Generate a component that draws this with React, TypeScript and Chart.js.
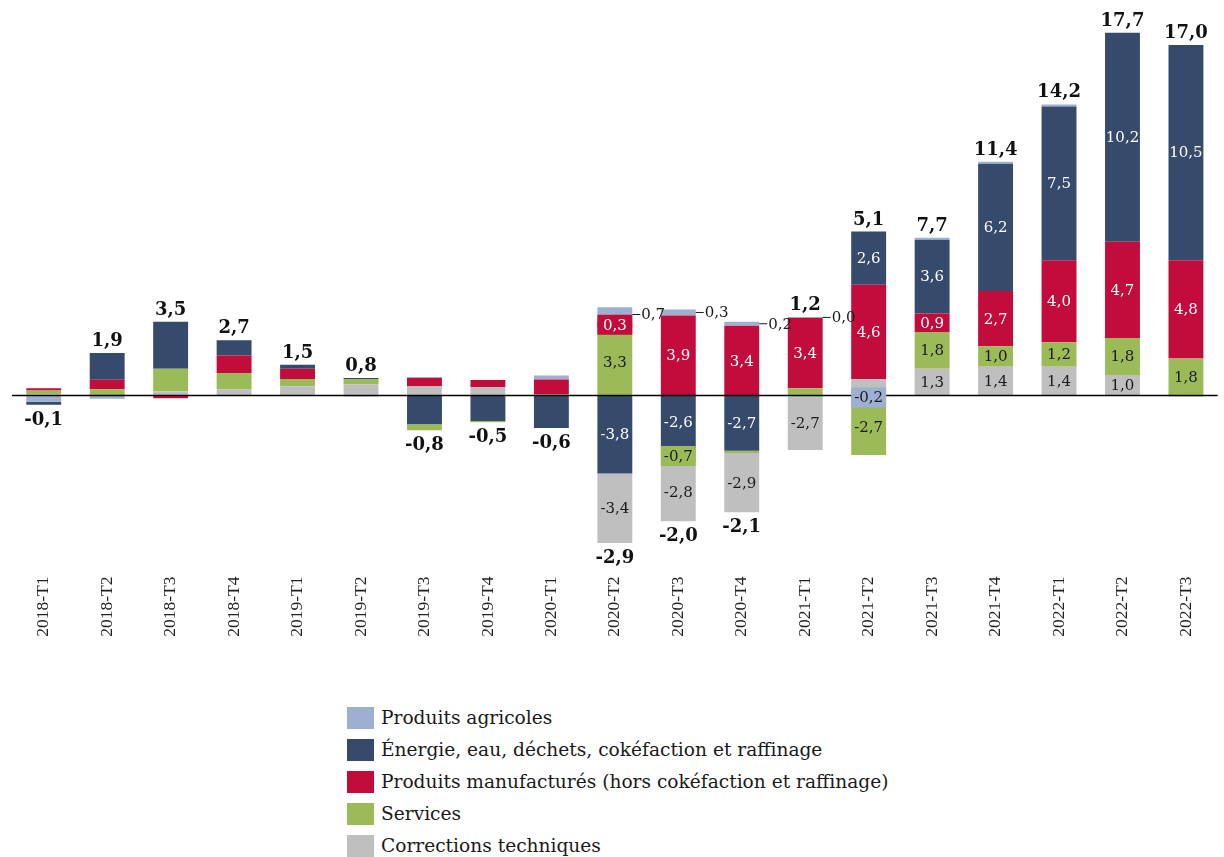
import React, { useEffect, useRef } from "react";
import { Chart, registerables } from "chart.js";

Chart.register(...registerables);

// ---- Data ----
const quarters = [
  "2018-T1", "2018-T2", "2018-T3", "2018-T4",
  "2019-T1", "2019-T2", "2019-T3", "2019-T4",
  "2020-T1", "2020-T2", "2020-T3", "2020-T4",
  "2021-T1", "2021-T2", "2021-T3", "2021-T4",
  "2022-T1", "2022-T2", "2022-T3",
];

const agricoles = [-0.3, -0.16, 0, -0.03, 0, -0.05, 0.05, 0, 0.2, 0.7, 0.3, 0.2, 0.04, -0.2, 0.1, 0.1, 0.1, 0, -0.05];
const energie = [-0.15, 1.3, 2.3, 0.75, 0.2, 0.05, -1.4, -1.24, -1.58, -3.8, -2.6, -2.7, 0, 2.6, 3.6, 6.2, 7.5, 10.2, 10.5];
const manufactures = [0.1, 0.47, -0.13, 0.85, 0.5, 0, 0.39, 0.34, 0.73, 0.3, 3.9, 3.4, 3.44, 4.6, 0.9, 2.7, 4.0, 4.7, 4.8];
const services = [0.2, 0.3, 1.1, 0.8, 0.35, 0.25, -0.3, -0.06, 0.05, 3.3, -0.7, -0.1, 0.35, -2.7, 1.8, 1.0, 1.2, 1.8, 1.8];
const corrections = [0.05, 0, 0.2, 0.3, 0.45, 0.55, 0.46, 0.42, 0, -3.4, -2.84, -2.9, -2.66, 0.8, 1.3, 1.4, 1.4, 1.0, 0];

const totals = [-0.1, 1.9, 3.5, 2.7, 1.5, 0.8, -0.8, -0.5, -0.6, -2.9, -2.0, -2.1, 1.2, 5.1, 7.7, 11.4, 14.2, 17.7, 17.0];

// Which segments carry a value label ("in" inside, "box" boxed, "lead" beside with leader line)
const agriLabels = ["", "", "", "", "", "", "", "", "", "lead", "lead", "lead", "lead", "box", "", "", "", "", ""];
const energieLabels = ["", "", "", "", "", "", "", "", "", "in", "in", "in", "", "in", "in", "in", "in", "in", "in"];
const manufLabels = ["", "", "", "", "", "", "", "", "", "box", "in", "in", "in", "in", "in", "in", "in", "in", "in"];
const servicesLabels = ["", "", "", "", "", "", "", "", "", "in", "box", "", "", "in", "in", "in", "in", "in", "in"];
const correctionsLabels = ["", "", "", "", "", "", "", "", "", "in", "in", "in", "in", "", "in", "in", "in", "in", ""];

const SERIES = [
  { label: "Produits agricoles", data: agricoles, color: "#9db0d1", text: "#1a1a1a", labels: agriLabels },
  { label: "Énergie, eau, déchets, cokéfaction et raffinage", data: energie, color: "#364a6b", text: "#ffffff", labels: energieLabels },
  { label: "Produits manufacturés (hors cokéfaction et raffinage)", data: manufactures, color: "#c20c3c", text: "#ffffff", labels: manufLabels },
  { label: "Services", data: services, color: "#9bbb59", text: "#1a1a1a", labels: servicesLabels },
  { label: "Corrections techniques", data: corrections, color: "#bfbfbf", text: "#1a1a1a", labels: correctionsLabels },
];

// stacking order: positives from zero upward, negatives from zero downward
const POS_ORDER = [4, 3, 2, 1, 0];
const NEG_ORDER = [0, 1, 2, 3, 4];

const fmt = (v: number) => (Math.round(v * 10) / 10).toFixed(1).replace(".", ",").replace(/^-0,0$/, "0,0");

const labelsPlugin = {
  id: "segLabels",
  afterDatasetsDraw(chart: any) {
    const ctx = chart.ctx;
    const y = chart.scales.y;
    const area = chart.chartArea;
    // zero line
    const y0 = y.getPixelForValue(0);
    ctx.save();
    ctx.strokeStyle = "#000";
    ctx.lineWidth = 1.3;
    ctx.beginPath();
    ctx.moveTo(area.left, y0);
    ctx.lineTo(area.right, y0);
    ctx.stroke();

    // segment labels
    ctx.font = "15px 'DejaVu Serif'";
    ctx.textBaseline = "middle";
    SERIES.forEach((s, si) => {
      s.data.forEach((v, i) => {
        const mode = s.labels[i];
        if (!mode) return;
        const dsIndex = v >= 0 ? POS_ORDER.indexOf(si) : 5 + NEG_ORDER.indexOf(si);
        const el = chart.getDatasetMeta(dsIndex).data[i];
        if (!el) return;
        const props = el.getProps(["x", "y", "base", "width"], true);
        const cy = (props.y + props.base) / 2;
        const txt = fmt(v);
        if (mode === "in") {
          ctx.fillStyle = s.text;
          ctx.textAlign = "center";
          ctx.fillText(txt, props.x, cy + 1);
        } else if (mode === "box") {
          ctx.fillStyle = s.color;
          ctx.fillRect(props.x - props.width / 2, cy - 10, props.width, 20);
          ctx.fillStyle = s.text;
          ctx.textAlign = "center";
          ctx.fillText(txt, props.x, cy + 1);
        } else if (mode === "lead") {
          const xr = props.x + props.width / 2;
          ctx.strokeStyle = "#1a1a1a";
          ctx.lineWidth = 1;
          ctx.beginPath();
          ctx.moveTo(xr, cy);
          ctx.lineTo(xr + 8, cy);
          ctx.stroke();
          ctx.fillStyle = "#1a1a1a";
          ctx.textAlign = "left";
          ctx.fillText(txt, xr + 9, cy + 1);
        }
      });
    });

    // totals
    ctx.font = "bold 18px 'DejaVu Serif'";
    ctx.fillStyle = "#111";
    ctx.textAlign = "center";
    ctx.textBaseline = "alphabetic";
    totals.forEach((t, i) => {
      let pos = 0;
      let neg = 0;
      SERIES.forEach((s) => {
        const v = s.data[i];
        if (v > 0) pos += v;
        else neg += v;
      });
      const x = chart.getDatasetMeta(0).data[i].x;
      const txt = t.toFixed(1).replace(".", ",");
      if (t >= 0) {
        ctx.fillText(txt, x, y.getPixelForValue(pos) - 7);
      } else {
        ctx.fillText(txt, x, y.getPixelForValue(neg) + 20);
      }
    });
    ctx.restore();
  },
};

export default function App() {
  const ref = useRef<HTMLCanvasElement | null>(null);

  useEffect(() => {
    document.body.style.margin = "0";
    document.body.style.background = "#ffffff";
    if (!ref.current) return;

    const datasets: any[] = [];
    POS_ORDER.forEach((si) => {
      const s = SERIES[si];
      datasets.push({
        label: s.label,
        data: s.data.map((v) => (v > 0 ? v : null)),
        backgroundColor: s.color,
        borderWidth: 0,
        stack: "s",
      });
    });
    NEG_ORDER.forEach((si) => {
      const s = SERIES[si];
      datasets.push({
        label: s.label,
        data: s.data.map((v) => (v < 0 ? v : null)),
        backgroundColor: s.color,
        borderWidth: 0,
        stack: "s",
      });
    });

    const chart = new Chart(ref.current, {
      type: "bar",
      data: { labels: quarters, datasets },
      plugins: [labelsPlugin],
      options: {
        responsive: false,
        maintainAspectRatio: false,
        animation: false,
        devicePixelRatio: 1,
        layout: { padding: { left: 12, right: 2, top: 6, bottom: 0 } },
        datasets: { bar: { barPercentage: 0.55, categoryPercentage: 1 } },
        plugins: { legend: { display: false }, tooltip: { enabled: false } },
        scales: {
          x: {
            stacked: true,
            grid: { display: false, drawTicks: false },
            border: { display: false },
            ticks: {
              autoSkip: false,
              maxRotation: 90,
              minRotation: 90,
              padding: 17,
              color: "#222",
              font: { family: "'Liberation Serif'", size: 17.5 },
            },
            afterFit: (scale: any) => {
              scale.height = 130.5;
            },
          },
          y: {
            stacked: true,
            display: false,
            min: -8,
            max: 19,
          },
        },
      },
    });
    return () => chart.destroy();
  }, []);

  return (
    <div style={{ position: "relative", width: 1224, height: 857, background: "#fff" }}>
      <canvas ref={ref} width={1224} height={690} style={{ display: "block" }} />
      <div style={{ position: "absolute", left: 347, top: 707 }}>
        {SERIES.map((s) => (
          <div key={s.label} style={{ display: "flex", alignItems: "center", height: 22, marginBottom: 10 }}>
            <div style={{ width: 27, height: 22, background: s.color, flex: "none" }} />
            <span
              style={{
                marginLeft: 7,
                fontFamily: "'DejaVu Serif'",
                fontSize: 18.6,
                color: "#1a1a1a",
                whiteSpace: "nowrap",
                lineHeight: "22px",
              }}
            >
              {s.label}
            </span>
          </div>
        ))}
      </div>
    </div>
  );
}
